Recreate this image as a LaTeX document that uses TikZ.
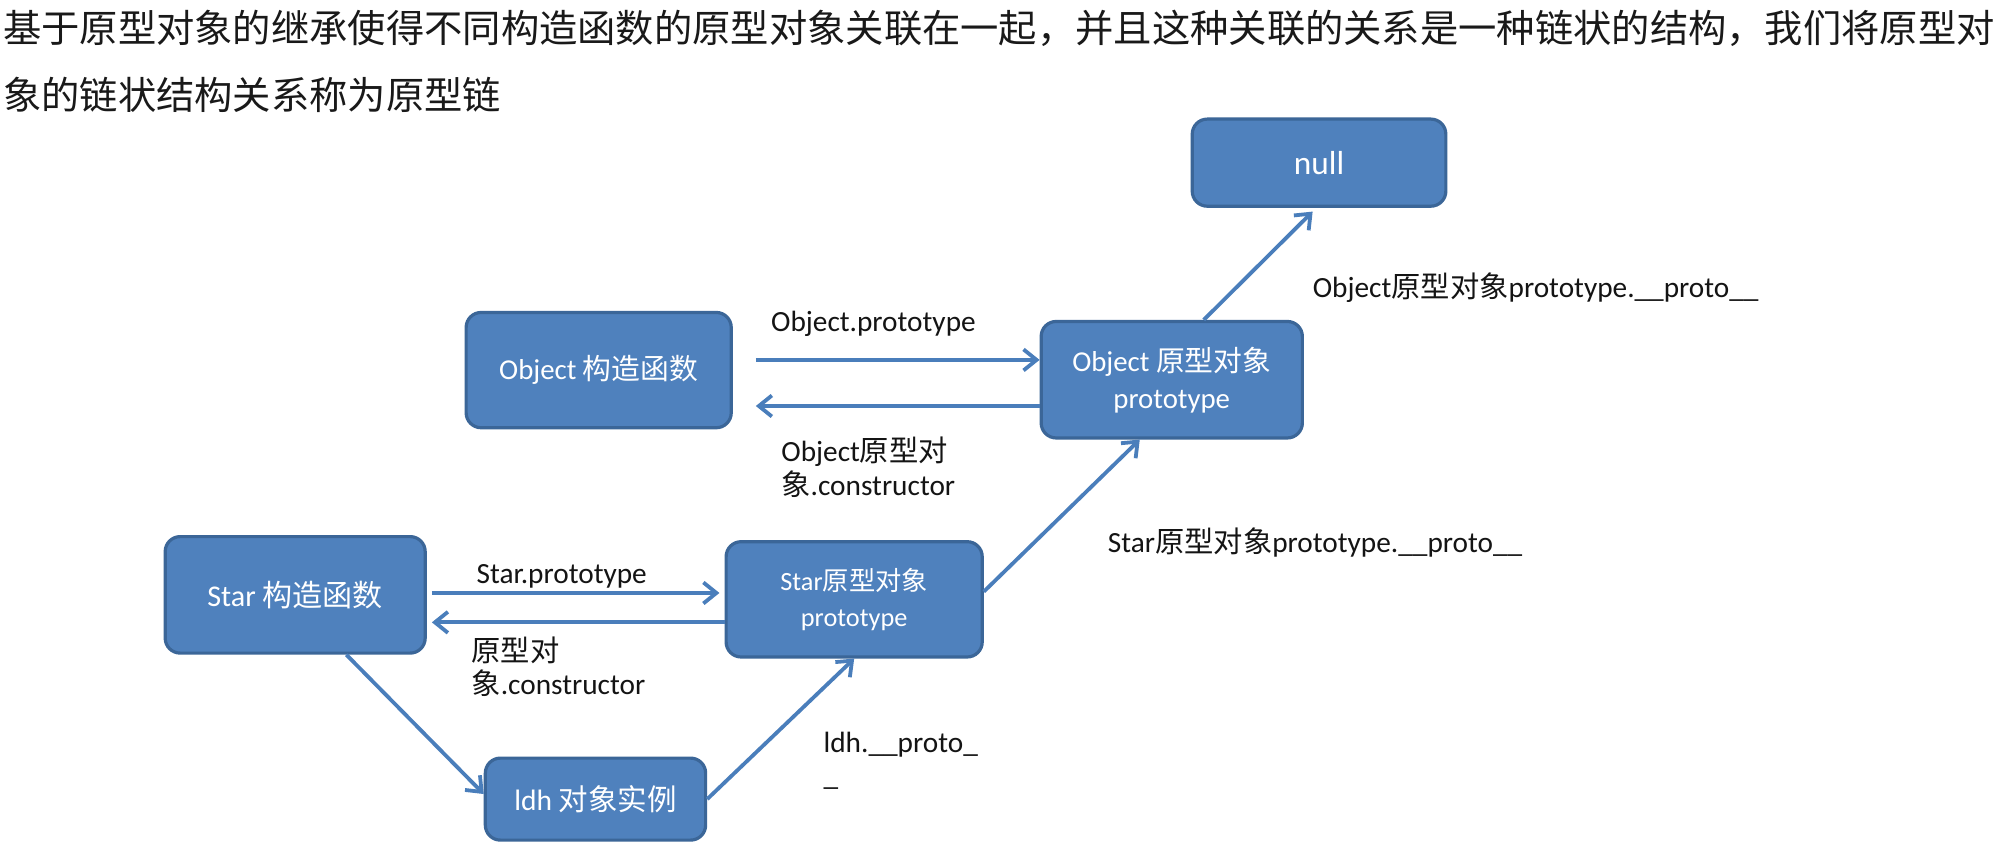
\documentclass[tikz,border=0pt]{standalone}
\usepackage{fontspec}
\setmainfont{Carlito}
\newfontfamily\cjk{Noto Sans CJK SC}
\usetikzlibrary{arrows.meta}
\definecolor{boxfill}{HTML}{4F81BD}
\definecolor{boxline}{HTML}{3B6698}
\definecolor{arrowc}{HTML}{4A7EBB}
\begin{document}
\begin{tikzpicture}[x=1.2806pt,y=-1.2806pt,
  box/.style={draw=boxline, line width=3.2pt, fill=boxfill, rounded corners=15pt, text=white, align=center, inner sep=0pt},
  arr/.style={draw=arrowc, line width=3.8pt, -{Straight Barb[length=13pt,width=21pt]}},
  lbl/.style={anchor=west, align=left, inner sep=0pt, font=\fontsize{29.3}{33.5}\selectfont, text=black!92},
  head/.style={anchor=base west, inner sep=0pt, font=\fontsize{38.3}{45}\selectfont\cjk, text=black!90}
]
\useasboundingbox (0,0) rectangle (1568,667.66);
\fill[white] (0,0) rectangle (1568,667.66);

\node[head] (h1) at (2.3,32.8) {基于原型对象的继承使得不同构造函数的原型对象关联在一起，并且这种关联的关系是一种链状的结构，我们将原型对};
\node[head] (h2) at (2.3,85.5) {象的链状结构关系称为原型链};

\node[box, minimum width=253.6pt, minimum height=87.1pt, font=\fontsize{33.3}{38}\selectfont] (null) at (1030,127) {null};
\node[box, minimum width=265.1pt, minimum height=115.3pt, font=\fontsize{28.8}{37}\selectfont] (ocons) at (467.5,289) {Object {\cjk 构造函数}};
\node[box, minimum width=261.2pt, minimum height=116.5pt, font=\fontsize{28.8}{37}\selectfont] (oproto) at (915,296.5) {Object {\cjk 原型对象}\\prototype};
\node[box, minimum width=260pt, minimum height=116.5pt, font=\fontsize{30.1}{37}\selectfont] (scons) at (230.5,464.5) {Star {\cjk 构造函数}};
\node[box, minimum width=256.1pt, minimum height=115.3pt, font=\fontsize{26.3}{35.9}\selectfont] (sproto) at (667,468) {Star{\cjk 原型对象}\\prototype};
\node[box, minimum width=220.3pt, minimum height=82pt, font=\fontsize{29.5}{35}\selectfont] (ldh) at (465,624) {ldh {\cjk 对象实例}};

\draw[arr] ([xshift=23pt,yshift=10.2pt]ocons.east) -- ([yshift=10.2pt]ocons.east -| oproto.west);
\draw[arr] ([yshift=-35.9pt]ocons.east -| oproto.west) -- ([xshift=23pt,yshift=-35.9pt]ocons.east);
\draw[arr] ([xshift=32pt]oproto.north) -- ([xshift=-6.4pt,yshift=-3.8pt]null.south);
\draw[arr] ([xshift=5.1pt,yshift=1.9pt]scons.east) -- ([xshift=-5.1pt,yshift=1.9pt]scons.east -| sproto.west);
\draw[arr] ([yshift=-27.5pt]scons.east -| sproto.west) -- ([xshift=5.1pt,yshift=-27.5pt]scons.east);
\draw[arr] ([xshift=51.2pt]scons.south) -- ([yshift=5.1pt]ldh.west);
\draw[arr] (ldh.east) -- (sproto.south);
\draw[arr] ([yshift=7.7pt]sproto.east) -- ([xshift=-32pt]oproto.south);

\node[lbl] (l1) at (602,253) {Object.prototype};
\node[lbl] (l2) at (610,365) {Object{\cjk 原型对}\\{\cjk 象}.constructor};
\node[lbl] (l3) at (1025,225) {Object{\cjk 原型对象}prototype.\_\_proto\_\_};
\node[lbl] (l4) at (372,450) {Star.prototype};
\node[lbl] (l5) at (368,520.5) {{\cjk 原型对}\\{\cjk 象}.constructor};
\node[lbl] (l6) at (865,424) {Star{\cjk 原型对象}prototype.\_\_proto\_\_};
\node[lbl] (l7) at (643,594) {ldh.\_\_proto\_\\\_};
\end{tikzpicture}
\end{document}
